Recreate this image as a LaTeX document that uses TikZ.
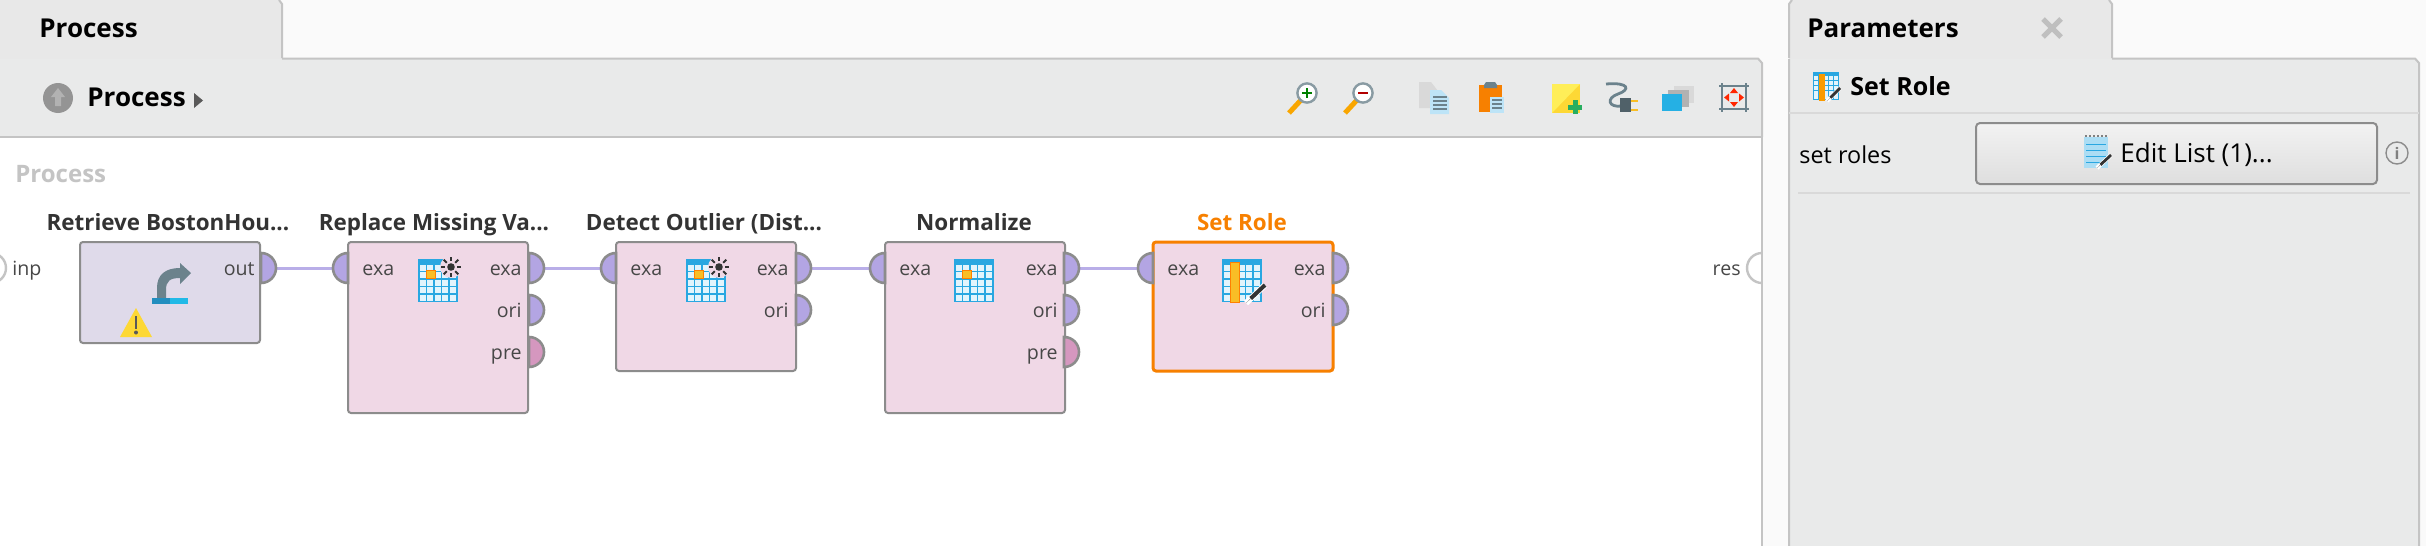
\documentclass[tikz,border=0pt]{standalone}
\usepackage{fontspec}
\setmainfont{Open Sans}
\usetikzlibrary{calc}
\definecolor{panelbg}{HTML}{E9EAEA}
\definecolor{tabbg}{HTML}{E8E8E8}
\definecolor{pagebg}{HTML}{FAFAFA}
\definecolor{edgegray}{HTML}{C4C4C4}
\definecolor{boxgray}{HTML}{8C8C8C}
\definecolor{opink}{HTML}{F0D8E6}
\definecolor{olilac}{HTML}{DFDAEA}
\definecolor{portblue}{HTML}{B3A5E3}
\definecolor{portpink}{HTML}{D597BF}
\definecolor{wirecol}{HTML}{B9AEE8}
\definecolor{selorange}{HTML}{F78000}
\definecolor{icoblue}{HTML}{29A7E1}
\definecolor{icolight}{HTML}{E2F4FC}
\definecolor{icoorange}{HTML}{F9BE26}
\definecolor{slate}{HTML}{6B828C}
\definecolor{textdark}{HTML}{333333}
\definecolor{notey}{HTML}{FDD835}
\definecolor{noteyl}{HTML}{FFEE58}
\definecolor{plusgreen}{HTML}{27AE60}
\newcommand{\tableicon}[3]{%
  \begin{scope}[shift={(#1,#2)},scale=#3]
    \fill[icoblue] (0,0) rectangle (40,43);
    \foreach \c in {0,1,2,3,4} \foreach \r in {0,1,2,3,4}{
      \fill[icolight] ({1.5+\c*7.6},{6+\r*7.4}) rectangle ++(6.1,5.9);}
  \end{scope}}
\newcommand{\suncell}[2]{%
  \fill[opink] (#1,#2) circle[radius=5.5pt];
  \fill[textdark] (#1,#2) circle[radius=1.9pt];
  \foreach \a in {0,45,...,315}{
    \draw[textdark,line width=1pt] ($(#1,#2)+(\a:3pt)$) -- ($(#1,#2)+(\a:5.2pt)$);}}
\newcommand{\pencilico}[4]{%
  \draw[white,line width=#4*3pt] (#1,#2) -- (#3);
  \draw[textdark,line width=#4*2pt] ($(#1,#2)!0.25!(#3)$) -- (#3);
  \fill[textdark] (#1,#2) -- ($(#1,#2)!0.27!(#3)+(#4*1.1pt,#4*1.1pt)$) -- ($(#1,#2)!0.27!(#3)+(-#4*1.1pt,-#4*1.1pt)$) -- cycle;}
\tikzset{
  x=0.5pt,y=-0.5pt,
  opbox/.style={draw=boxgray,line width=1pt,rounded corners=1.5pt,anchor=north west,inner sep=0pt,outer sep=0pt,
     minimum width=90pt,fill=opink},
  title/.style={font=\fontsize{11.2}{13}\selectfont\bfseries,text=textdark,anchor=mid,inner sep=0pt},
  plabel/.style={font=\fontsize{9.8}{11}\selectfont,text=textdark!90,inner sep=0pt},
  portshape/.style={draw=boxgray,line width=1.3pt,fill=portblue},
  wire/.style={draw=wirecol,line width=1.5pt},
  heading/.style={font=\fontsize{13}{15}\selectfont\bfseries,text=black,inner sep=0pt,anchor=mid west},
  subtext/.style={font=\fontsize{11.7}{14}\selectfont,text=black,inner sep=0pt},
}
\newcommand{\outport}[4][portblue]{%
  \coordinate (#2) at (#3,#4);
  \filldraw[portshape,fill=#1] (#3,#4-15) arc[start angle=90,end angle=-90,radius=7.5pt] -- cycle;}
\newcommand{\inport}[3]{%
  \coordinate (#1) at (#2,#3);
  \filldraw[portshape] (#2,#3-15) arc[start angle=90,end angle=270,radius=7.5pt] -- cycle;}
\begin{document}
\begin{tikzpicture}
\useasboundingbox (0,0) rectangle (2426,546);
\fill[pagebg] (0,0) rectangle (2426,546);
% process panel
\fill[tabbg] (0,0) -- (279,0) -- (282,4) -- (282,59) -- (0,59) -- cycle;
\draw[edgegray,line width=1pt] (279,0) -- (282,4) -- (282,58);
\fill[panelbg] (0,59) -- (1758,59) -- (1762,63) -- (1762,137) -- (0,137) -- cycle;
\draw[edgegray,line width=1pt] (282,58.5) -- (1758,58.5) -- (1762,63) -- (1762,137);
\fill[white] (0,138) rectangle (1762,546);
\draw[edgegray,line width=1pt] (0,137) -- (1762,137);
\node[heading] (tabproc) at (39,32.5) {Process};
\fill[black!42] (58,98) circle[radius=7.5pt];
\fill[black!30] (58,88) -- (65,97) -- (61,97) -- (61,106) -- (55,106) -- (55,97) -- (51,97) -- cycle;
\node[heading] (crumb) at (87,101.5) {Process};
\fill[black!65] (194,93) -- (203,100.5) -- (194,108) -- cycle;
\node[heading,text=edgegray,font=\fontsize{12}{14}\selectfont\bfseries] (canvas) at (15,177.5) {Process};
% toolbar icons
\draw[selorange!70!yellow,line width=2.5pt] (1289,113) -- (1301,100);
\draw[slate!80,line width=1.2pt,fill=white] (1307,93) circle[radius=4.8pt];
\draw[green!50!black,line width=1pt] (1302,93) -- (1312,93) (1307,88) -- (1307,98);
\draw[selorange!70!yellow,line width=2.5pt] (1345,113) -- (1357,100);
\draw[slate!80,line width=1.2pt,fill=white] (1363,93) circle[radius=4.8pt];
\draw[red!70!black,line width=1pt] (1358,93) -- (1368,93);
\fill[black!15] (1419,82) -- (1431,82) -- (1438,91) -- (1438,108) -- (1419,108) -- cycle;
\fill[icolight!80!icoblue] (1430,90) -- (1441,90) -- (1449,98) -- (1449,114) -- (1430,114) -- cycle;
\foreach \yy in {97,101,105,109} \draw[slate,line width=.6pt] (1433,\yy) -- (1447,\yy);
\fill[selorange] (1479,85) rectangle (1502,112);
\fill[slate] (1484,85) -- (1486,82) -- (1495,82) -- (1497,85) -- (1497,88) -- (1484,88) -- cycle;
\fill[icolight!80!icoblue] (1490,97) rectangle (1504,113);
\foreach \yy in {100,104,108} \draw[slate,line width=.6pt] (1492,\yy) -- (1502,\yy);
\fill[notey] (1552,84) rectangle (1580,113);
\fill[noteyl] (1552,84) -- (1580,84) -- (1552,113) -- cycle;
\draw[plusgreen,line width=2.5pt] (1568,107) -- (1582,107) (1575,100) -- (1575,114);
\draw[slate,line width=1.4pt] (1606,84) .. controls (1630,82) and (1630,90) .. (1618,94) .. controls (1606,98) and (1608,108) .. (1622,106);
\fill[slate!75!black] (1620,98) rectangle (1631,112);
\draw[icoorange,line width=1.2pt] (1631,101) -- (1638,101) (1631,110) -- (1638,110);
\fill[black!15] (1674,86) rectangle (1694,103);
\fill[black!30] (1668,90) rectangle (1689,107);
\fill[icoblue!90!cyan] (1662,94) rectangle (1682,111);
\draw[slate,line width=1.2pt] (1719,86) -- (1749,86) (1719,109) -- (1749,109) (1722,83) -- (1722,112) (1746,83) -- (1746,112);
\fill[red!70!orange] (1734,88) -- (1738,93) -- (1730,93) -- cycle (1734,107) -- (1738,102) -- (1730,102) -- cycle
  (1724,97.5) -- (1729,93.5) -- (1729,101.5) -- cycle (1744,97.5) -- (1739,93.5) -- (1739,101.5) -- cycle;
% canvas ports
\draw[edgegray,line width=1.2pt] (-9,253) arc[start angle=90,end angle=-90,radius=7.5pt];
\node[plabel,anchor=mid west] (inpL) at (12,270) {inp};
\draw[edgegray,line width=1.2pt] (1762,253) arc[start angle=90,end angle=270,radius=7.5pt];
\draw[edgegray,line width=1pt] (1762,137) -- (1762,546);
\node[plabel,anchor=mid east] (resL) at (1741,270) {res};
% wires
\coordinate (w1) at (261,268);\coordinate (w2) at (348,268);
\coordinate (w3) at (529,268);\coordinate (w4) at (616,268);
\coordinate (w5) at (796,268);\coordinate (w6) at (885,268);
\coordinate (w7) at (1064,268);\coordinate (w8) at (1153,268);
\draw[wire] (w1) -- (w2); \draw[wire] (w3) -- (w4); \draw[wire] (w5) -- (w6); \draw[wire] (w7) -- (w8);
% operators
\node[opbox,fill=olilac,minimum height=50.5pt] (retrieve) at (80,242) {};
\node[opbox,minimum height=85.5pt] (replace) at (348,242) {};
\node[opbox,minimum height=64.5pt] (detect) at (616,242) {};
\node[opbox,minimum height=85.5pt] (normalize) at (885,242) {};
\node[opbox,draw=selorange,line width=1.5pt,minimum height=64.5pt] (setrole) at (1153,242) {};
\node[title] (t1) at (168,225) {Retrieve BostonHou...};
\node[title] (t2) at (434,225) {Replace Missing Va...};
\node[title] (t3) at (704,225) {Detect Outlier (Dist...};
\node[title] (t4) at (974,225) {Normalize};
\node[title,text=selorange] (t5) at (1242,225) {Set Role};
% ports
\outport{o1}{261}{268}
\inport{i2}{348}{268}\outport{o2a}{529}{268}\outport{o2b}{529}{310}\outport[portpink]{o2c}{529}{352}
\inport{i3}{616}{268}\outport{o3a}{796}{268}\outport{o3b}{796}{310}
\inport{i4}{885}{268}\outport{o4a}{1064}{268}\outport{o4b}{1064}{310}\outport[portpink]{o4c}{1064}{352}
\inport{i5}{1153}{268}\outport{o5a}{1333}{268}\outport{o5b}{1333}{310}
% port labels
\node[plabel,anchor=mid east] at (255,270) {out};
\foreach \xl/\xr in {362/522,630/789,899/1058,1167/1326}{
  \node[plabel,anchor=mid west] at (\xl,270) {exa};
  \node[plabel,anchor=mid east] at (\xr,270) {exa};
  \node[plabel,anchor=mid east] at (\xr,312) {ori};}
\node[plabel,anchor=mid east] at (522,354) {pre};
\node[plabel,anchor=mid east] at (1058,354) {pre};
% retrieve icon
\fill[slate] (157,298) -- (157,288) .. controls (157,275) and (165,268) .. (180,268) -- (180,263) -- (191,273) -- (180,284) -- (180,278) .. controls (170,278) and (166,281) .. (166,290) -- (166,298) -- cycle;
\fill[icoblue!85!black] (152,298) rectangle (170,304);
\fill[icoblue!80!cyan] (170,298) rectangle (188,304);
\fill[notey] (136,308) -- (152,337) -- (120,337) -- cycle;
\fill[black!65] (134.8,316) rectangle (137.2,329);
\fill[black!65] (136,332.5) circle[radius=1pt];
% table icons
\tableicon{418}{259}{1}
\fill[icoorange,draw=orange,line width=.4pt] (426,270) rectangle (435,278);
\suncell{451}{267}
\tableicon{686}{259}{1}
\fill[icoorange,draw=orange,line width=.4pt] (694,270) rectangle (703,278);
\suncell{719}{267}
\tableicon{954}{259}{1}
\fill[icoorange,draw=orange,line width=.4pt] (962,270) rectangle (971,278);
\tableicon{1222}{259}{1}
\fill[icoorange,draw=orange,line width=.4pt] (1230,262) rectangle (1239,302);
\coordinate (pen1) at (1265,285);
\pencilico{1246}{303}{pen1}{1}
% parameters panel
\fill[tabbg] (1789,59) -- (1789,4) -- (1792,0) -- (2109,0) -- (2112,4) -- (2112,59) -- cycle;
\draw[edgegray,line width=1pt] (1789,58) -- (1789,4) -- (1792,0) (2109,0) -- (2112,4) -- (2112,58);
\fill[panelbg] (1789,59) -- (2415,59) -- (2419,63) -- (2419,546) -- (1789,546) -- cycle;
\draw[edgegray,line width=1pt] (1789,59) -- (1789,546) (2112,58.5) -- (2415,58.5) -- (2419,63) -- (2419,546);
\node[heading] (partab) at (1807,32.5) {Parameters};
\coordinate (xa) at (2043,19);\coordinate (xb) at (2061,37);\coordinate (xc) at (2061,19);\coordinate (xd) at (2043,37);
\draw[black!25,line width=2.5pt] (xa) -- (xb) (xc) -- (xd);
\tableicon{1813}{72}{0.66}
\fill[selorange!80!yellow] (1818.5,74) rectangle (1824.5,101);
\coordinate (pen2) at (1840,88);
\pencilico{1827}{101}{pen2}{0.7}
\node[heading,font=\fontsize{12.5}{15}\selectfont\bfseries] (rolehd) at (1850,90) {Set Role};
\draw[black!15,line width=1pt] (1789,113) -- (2419,113);
\node[subtext,anchor=mid west] (setroles) at (1799,158) {set roles};
\node[draw=boxgray,line width=1pt,rounded corners=2pt,top color=black!5,bottom color=black!13,inner sep=0pt,outer sep=0pt,
  anchor=north west,minimum width=200.5pt,minimum height=30.5pt] (editbtn) at (1976,123) {};
\node[subtext,font=\fontsize{13}{15}\selectfont,anchor=mid west] (edittext) at (2120,157) {Edit List (1)...};
\fill[icolight!70!icoblue] (2084,137) rectangle (2108,168);
\foreach \yy in {144,150,156,162} \draw[icoblue,line width=.5pt] (2086,\yy) -- (2106,\yy);
\draw[black!50,line width=1pt,dash pattern=on 1pt off 1pt] (2085,135.5) -- (2107,135.5);
\coordinate (pen3) at (2111,155);
\pencilico{2097}{168}{pen3}{0.7}
\draw[black!45,line width=.7pt,fill=panelbg] (2397,153) circle[radius=5.5pt];
\node[font=\fontsize{8}{8}\selectfont\bfseries,text=black!50,inner sep=0pt] (infoi) at (2397,153) {i};
\draw[black!15,line width=1pt] (1798,193) -- (2410,193);
\end{tikzpicture}
\end{document}
